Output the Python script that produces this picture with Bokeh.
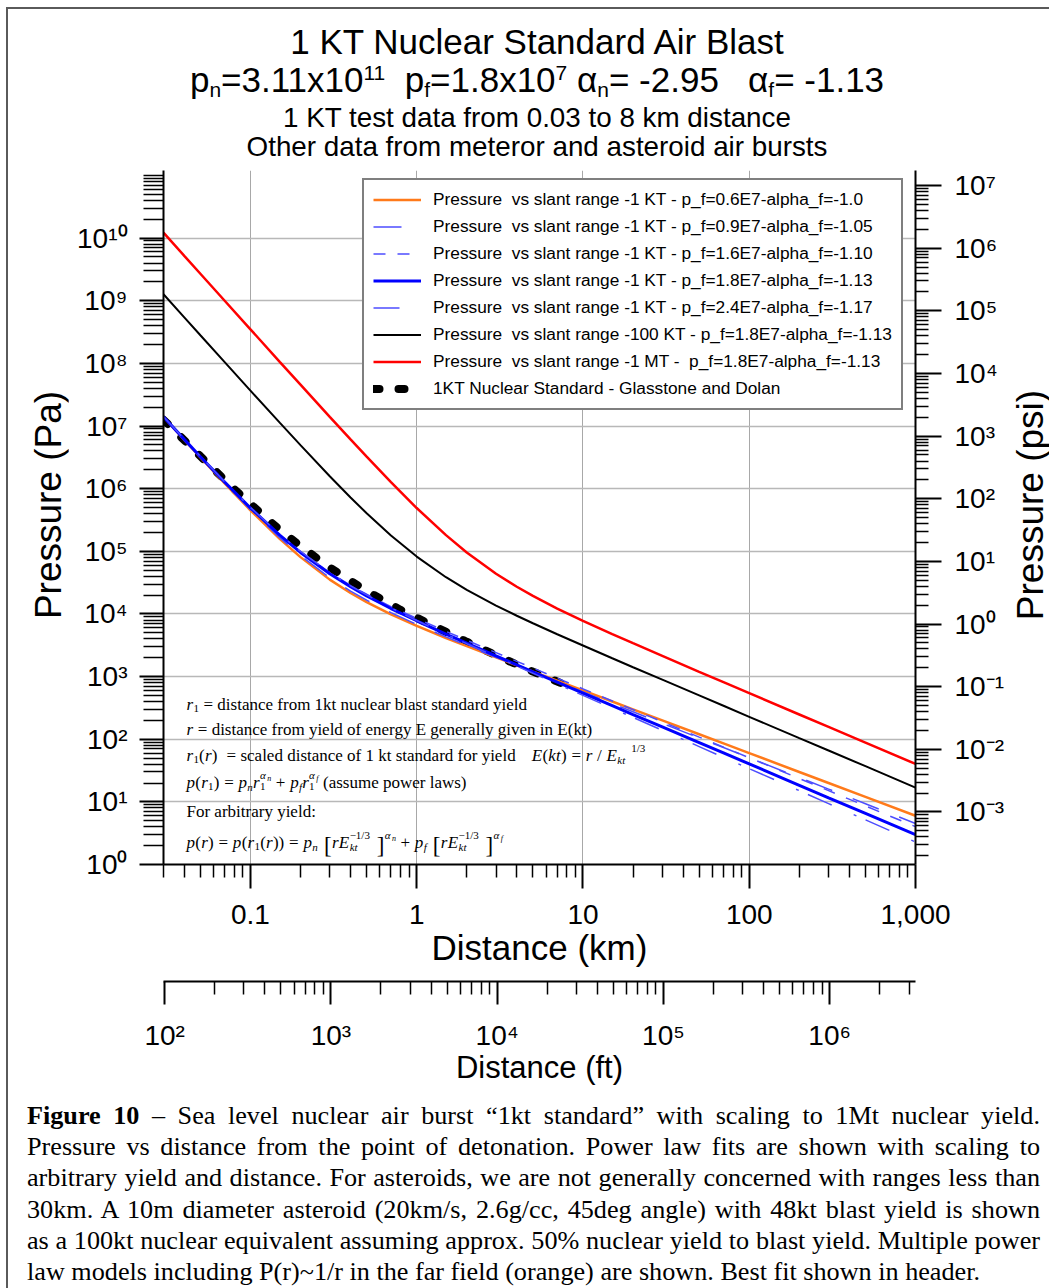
import math
from bokeh.plotting import figure
from bokeh.models import (ColumnDataSource, Range1d, LogScale, LinearScale, LogAxis, FixedTicker,
                          CustomJSTickFormatter, Legend, LegendItem, Div)
from bokeh.layouts import column, row
from bokeh.core.properties import value
from bokeh.embed import file_html
from bokeh.resources import INLINE

# ------------------------------------------------------------------ data
distance_km = [0.03, 0.04, 0.05, 0.07, 0.1, 0.15, 0.2, 0.3, 0.4, 0.5, 0.7, 1, 1.5, 2, 3, 4, 5, 7,
               10, 15, 20, 30, 50, 70, 100, 200, 300, 500, 1000]
p_1kt_pf06_a100 = [1.39e7, 5.99e6, 3.15e6, 1.21e6, 4.52e5, 1.58e5, 8.07e4, 3.53e4, 2.16e4, 1.54e4, 9.83e3,
                   6.44e3, 4.13e3, 3.06e3, 2.02e3, 1.51e3, 1.20e3, 859, 601, 400, 300, 200, 120, 85.7, 60,
                   30, 20, 12, 6.0]
p_1kt_pf09_a105 = [1.39e7, 6.03e6, 3.17e6, 1.23e6, 4.63e5, 1.65e5, 8.52e4, 3.79e4, 2.32e4, 1.66e4, 1.05e4,
                   6.81e3, 4.30e3, 3.13e3, 2.03e3, 1.49e3, 1.18e3, 827, 568, 371, 274, 179, 105, 73.6, 50.6,
                   24.4, 16.0, 9.34, 4.51]
p_1kt_pf16_a110 = [1.40e7, 6.12e6, 3.24e6, 1.27e6, 4.93e5, 1.83e5, 9.78e4, 4.55e4, 2.85e4, 2.06e4, 1.31e4,
                   8.46e3, 5.27e3, 3.80e3, 2.41e3, 1.75e3, 1.37e3, 945, 637, 408, 297, 190, 108, 74.9, 50.6,
                   23.6, 15.1, 8.61, 4.02]
p_1kt_pf18_a113 = [1.40e7, 6.12e6, 3.24e6, 1.27e6, 4.91e5, 1.81e5, 9.59e4, 4.39e4, 2.72e4, 1.94e4, 1.22e4,
                   7.78e3, 4.77e3, 3.41e3, 2.14e3, 1.54e3, 1.19e3, 815, 544, 344, 248, 157, 88.2, 60.3, 40.3,
                   18.4, 11.6, 6.54, 2.99]
p_1kt_pf24_a117 = [1.41e7, 6.16e6, 3.27e6, 1.29e6, 5.01e5, 1.87e5, 9.94e4, 4.56e4, 2.82e4, 2.01e4, 1.25e4,
                   7.86e3, 4.75e3, 3.35e3, 2.07e3, 1.47e3, 1.13e3, 762, 501, 312, 223, 139, 76.3, 51.4, 33.9,
                   15.1, 9.38, 5.16, 2.29]
p_100kt_pf18_a113 = [1.27e9, 5.43e8, 2.81e8, 1.05e8, 3.68e7, 1.13e7, 4.95e6, 1.58e6, 7.24e5, 4.05e5, 1.79e5,
                     8.23e4, 3.86e4, 2.42e4, 1.36e4, 9.36e3, 7.10e3, 4.74e3, 3.13e3, 1.96e3, 1.41e3, 892, 500,
                     342, 228, 104, 66.0, 37.1, 16.9]
p_1mt_pf18_a113 = [1.22e10, 5.21e9, 2.70e9, 1.00e9, 3.50e8, 1.06e8, 4.58e7, 1.40e7, 6.12e6, 3.24e6, 1.27e6,
                   4.91e5, 1.81e5, 9.59e4, 4.39e4, 2.72e4, 1.94e4, 1.22e4, 7.78e3, 4.77e3, 3.41e3, 2.14e3,
                   1.19e3, 815, 544, 248, 157, 88.2, 40.3]

glasstone_km = [0.03, 0.05, 0.08, 0.1, 0.15, 0.2, 0.3, 0.5, 0.8, 1, 2, 3, 5, 8]
glasstone_pa = [1.26e7, 3.3e6, 9.8e5, 5.7e5, 2.2e5, 1.21e5, 5.5e4, 2.33e4, 1.16e4, 8.7e3, 3.6e3, 2.18e3, 1.2e3, 720]

series_labels = [
    "Pressure  vs slant range -1 KT - p_f=0.6E7-alpha_f=-1.0",
    "Pressure  vs slant range -1 KT - p_f=0.9E7-alpha_f=-1.05",
    "Pressure  vs slant range -1 KT - p_f=1.6E7-alpha_f=-1.10",
    "Pressure  vs slant range -1 KT - p_f=1.8E7-alpha_f=-1.13",
    "Pressure  vs slant range -1 KT - p_f=2.4E7-alpha_f=-1.17",
    "Pressure  vs slant range -100 KT - p_f=1.8E7-alpha_f=-1.13",
    "Pressure  vs slant range -1 MT -  p_f=1.8E7-alpha_f=-1.13",
    "1KT Nuclear Standard - Glasstone and Dolan",
]

km_ticks = [0.1, 1, 10, 100, 1000]
km_tick_labels = ["0.1", "1", "10", "100", "1,000"]
pa_ticks = [1e0, 1e1, 1e2, 1e3, 1e4, 1e5, 1e6, 1e7, 1e8, 1e9, 1e10]
pa_tick_labels = ["10⁰", "10¹", "10²", "10³", "10⁴", "10⁵", "10⁶", "10⁷", "10⁸", "10⁹", "10¹⁰"]
psi_ticks = [1e-3, 1e-2, 1e-1, 1e0, 1e1, 1e2, 1e3, 1e4, 1e5, 1e6, 1e7]
psi_tick_labels = ["10⁻³", "10⁻²", "10⁻¹", "10⁰", "10¹", "10²", "10³", "10⁴", "10⁵", "10⁶", "10⁷"]
ft_ticks = [1e2, 1e3, 1e4, 1e5, 1e6]
ft_tick_labels = ["10²", "10³", "10⁴", "10⁵", "10⁶"]

PA_PER_PSI = 6894.757
KM_PER_FT = 0.0003048

# ------------------------------------------------------------------ figure geometry
X_MIN, X_MAX = 0.03, 1000.0
Y_MIN, Y_MAX = 1.0, 1.2e11
FRAME_W, FRAME_H = 752, 694
FRAME_LEFT_PAGE, FRAME_TOP_PAGE = 163, 170
FIG_H = 944

p = figure(width=942, height=FIG_H, x_axis_type="log", y_axis_type="log",
           x_range=Range1d(X_MIN, X_MAX), y_range=Range1d(Y_MIN, Y_MAX),
           output_backend="svg", toolbar_location=None,
           min_border_left=95, min_border_right=95, min_border_top=10, min_border_bottom=240,
           background_fill_color="white", border_fill_color="white", margin=0)
p.outline_line_color = None

p.extra_x_ranges = {"ft": Range1d(X_MIN / KM_PER_FT, X_MAX / KM_PER_FT),
                    "px": Range1d(0, FRAME_W)}
p.extra_x_scales = {"ft": LogScale(), "px": LinearScale()}
p.extra_y_ranges = {"psi": Range1d(Y_MIN / PA_PER_PSI, Y_MAX / PA_PER_PSI),
                    "px": Range1d(FRAME_H, 0)}
p.extra_y_scales = {"psi": LogScale(), "px": LinearScale()}


def minors(lo, hi, kmin, kmax, majors):
    out = []
    for k in range(kmin, kmax + 1):
        for m in range(1, 10):
            v = m * 10.0 ** k
            if lo * 0.999 <= v <= hi * 1.001 and all(abs(v / t - 1) > 1e-9 for t in majors):
                out.append(v)
    return out


LAB_CODE = """
const lt = Math.log10(tick);
for (let i = 0; i < vals.length; i++) {
  if (Math.abs(lt - Math.log10(vals[i])) < 1e-6) { return labs[i]; }
}
return "";
"""


def fmt(vals, labs):
    return CustomJSTickFormatter(args=dict(vals=vals, labs=labs), code=LAB_CODE)


def style_axis(ax, label, label_size, major_out, minor_out, standoff, label_standoff):
    ax.axis_label = label
    ax.axis_label_text_font = "Liberation Sans"
    ax.axis_label_text_font_size = label_size
    ax.axis_label_text_font_style = "normal"
    ax.axis_label_text_color = "black"
    ax.axis_label_standoff = label_standoff
    ax.major_label_text_font = "Liberation Sans"
    ax.major_label_text_font_size = "28px"
    ax.major_label_text_color = "black"
    ax.major_label_standoff = standoff
    ax.axis_line_width = 2
    ax.axis_line_color = "black"
    ax.major_tick_line_color = "black"
    ax.minor_tick_line_color = "black"
    ax.major_tick_line_width = 2
    ax.minor_tick_line_width = 1.5
    ax.major_tick_in = 0
    ax.major_tick_out = major_out
    ax.minor_tick_in = 0
    ax.minor_tick_out = minor_out


# main x axis (km)
xax = p.xaxis[0]
xax.ticker = FixedTicker(ticks=km_ticks, minor_ticks=minors(X_MIN, X_MAX, -2, 3, km_ticks))
xax.formatter = fmt(km_ticks, km_tick_labels)
style_axis(xax, "Distance (km)", "35px", 24, 13, 16, 1)

# left y axis (Pa) - its title is a rotated text beside the figure
yax = p.yaxis[0]
yax.ticker = FixedTicker(ticks=pa_ticks, minor_ticks=minors(Y_MIN, Y_MAX, 0, 11, pa_ticks))
yax.formatter = fmt(pa_ticks, pa_tick_labels)
style_axis(yax, None, "36px", 24, 20, 12, 8)

# right y axis (psi)
psi_ax = LogAxis(y_range_name="psi",
                 ticker=FixedTicker(ticks=psi_ticks,
                                    minor_ticks=minors(Y_MIN / PA_PER_PSI, Y_MAX / PA_PER_PSI, -4, 7, psi_ticks)),
                 formatter=fmt(psi_ticks, psi_tick_labels))
style_axis(psi_ax, None, "36px", 26, 13, 13, 8)
p.add_layout(psi_ax, "right")

# invisible spacer axis between the two distance axes
spacer = LogAxis(ticker=FixedTicker(ticks=[1.0], minor_ticks=[]),
                 formatter=CustomJSTickFormatter(code='return "";'),
                 axis_line_color=None, major_tick_out=12, major_tick_in=0, minor_tick_out=0, minor_tick_in=0,
                 major_label_standoff=0, major_label_text_font_size="1px",
                 major_tick_line_color=None, minor_tick_line_color=None)
p.add_layout(spacer, "below")

# second x axis (ft)
ft_ax = LogAxis(x_range_name="ft",
                ticker=FixedTicker(ticks=ft_ticks,
                                   minor_ticks=minors(X_MIN / KM_PER_FT, X_MAX / KM_PER_FT, 2, 6, ft_ticks)),
                formatter=fmt(ft_ticks, ft_tick_labels))
style_axis(ft_ax, "Distance (ft)", "31px", 23, 13, 15, -4)
p.add_layout(ft_ax, "below")

p.xgrid.grid_line_color = "#a8a8a8"
p.xgrid.grid_line_width = 1
p.ygrid.grid_line_color = "#b8b8b8"
p.ygrid.grid_line_width = 1.5

# ------------------------------------------------------------------ curves
src = ColumnDataSource(dict(x=distance_km,
                            o=p_1kt_pf06_a100, b09=p_1kt_pf09_a105, b16=p_1kt_pf16_a110,
                            b18=p_1kt_pf18_a113, b24=p_1kt_pf24_a117,
                            k100=p_100kt_pf18_a113, mt=p_1mt_pf18_a113))
gsrc = ColumnDataSource(dict(x=glasstone_km, y=glasstone_pa))

r_gd = p.line("x", "y", source=gsrc, line_color="black", line_width=8, line_dash="6 19", line_cap="round")
r_o = p.line("x", "o", source=src, line_color="#ff7a1a", line_width=2.5)
r_b09 = p.line("x", "b09", source=src, line_color="#4d4dff", line_width=1.5, line_dash="28 22")
r_b16 = p.line("x", "b16", source=src, line_color="#4d4dff", line_width=1.5, line_dash="12 12")
r_b18 = p.line("x", "b18", source=src, line_color="#0000ff", line_width=3)
r_b24 = p.line("x", "b24", source=src, line_color="#4d4dff", line_width=1.5, line_dash="26 24 3 10")
r_100 = p.line("x", "k100", source=src, line_color="black", line_width=2)
r_mt = p.line("x", "mt", source=src, line_color="#ff0000", line_width=2.5)

renderers = [r_o, r_b09, r_b16, r_b18, r_b24, r_100, r_mt, r_gd]
legend = Legend(items=[LegendItem(label=lab, renderers=[r]) for lab, r in zip(series_labels, renderers)],
                location=(199, 454), label_text_font="Liberation Sans", label_text_font_size="17.3px",
                label_text_color="black", glyph_width=48, glyph_height=21, label_height=21,
                label_standoff=12, spacing=6, padding=9, margin=0,
                border_line_color="black", border_line_width=2, background_fill_alpha=1.0)
p.add_layout(legend, "center")

# ------------------------------------------------------------------ equation block (Times)
W_ROMAN = {" ": 250, "(": 333, ")": 333, "+": 564, ",": 250, "-": 333, ".": 250, "/": 278, ":": 278,
           "=": 564, "[": 333, "]": 333, "~": 541, "−": 564, "α": 631,
           "A": 722, "B": 667, "C": 667, "D": 722, "E": 611, "F": 556, "G": 722, "H": 722, "I": 333,
           "J": 389, "K": 722, "L": 611, "M": 889, "N": 722, "O": 722, "P": 556, "Q": 722, "R": 667,
           "S": 556, "T": 611, "U": 722, "V": 722, "W": 944, "X": 722, "Y": 722, "Z": 611,
           "a": 444, "b": 500, "c": 444, "d": 500, "e": 444, "f": 333, "g": 500, "h": 500, "i": 278,
           "j": 278, "k": 500, "l": 278, "m": 778, "n": 500, "o": 500, "p": 500, "q": 500, "r": 333,
           "s": 389, "t": 278, "u": 500, "v": 500, "w": 722, "x": 500, "y": 500, "z": 444}
W_ITALIC = dict(W_ROMAN)
W_ITALIC.update({"a": 500, "f": 278, "k": 444, "m": 722, "r": 389, "v": 444, "w": 667, "y": 444, "z": 389})
for d in "0123456789":
    W_ROMAN[d] = 500
    W_ITALIC[d] = 500

BASE = 17.0
KIND = {"n": (BASE, 0.0), "sub": (11.0, 4.0), "sup": (11.0, -7.5), "ss": (8.0, -4.5), "big": (23.0, 3.0)}
W_SCALE = 1.04


def twidth(t, size, style):
    tab = W_ITALIC if style == "italic" else W_ROMAN
    return sum(tab.get(c, 500) for c in t) * size / 1000.0 * W_SCALE


def layout_line(pieces, x0, base):
    out = []
    x = x0
    last_start = x0
    for pc in pieces:
        txt, kind, style = pc[0], pc[1], pc[2]
        stack = len(pc) > 3 and pc[3] == "stack"
        size, dy = KIND[kind]
        lead = len(txt) - len(txt.lstrip(" "))
        lead_w = twidth(" " * lead, size, style)
        w = twidth(txt, size, style)
        xs = last_start if stack else x
        if txt.strip():
            out.append((xs + lead_w, base + dy, txt.strip(" "), "%.1fpx" % size, style))
        if stack:
            x = max(x, xs + w)
        else:
            last_start = xs + lead_w
            x = xs + w
    return out


I, N = "italic", "normal"
eq_lines = [
    [("r", "n", I), ("1", "sub", N), (" = distance from 1kt nuclear blast standard yield", "n", N)],
    [("r", "n", I), (" = distance from yield of energy E generally given in E(kt)", "n", N)],
    [("r", "n", I), ("1", "sub", N), ("(", "n", N), ("r", "n", I), (")", "n", N),
     ("  = scaled distance of 1 kt standard for yield ", "n", N), ("E", "n", I), ("(", "n", N),
     ("kt", "n", I), (")", "n", N), (" = ", "n", N), ("r", "n", I), (" / ", "n", N), ("E", "n", I),
     ("kt", "sub", I), ("  1/3", "sup", N)],
    [("p", "n", I), ("(", "n", N), ("r", "n", I), ("1", "sub", N), (")", "n", N), (" = ", "n", N),
     ("p", "n", I), ("n", "sub", I), ("r", "n", I), ("1", "sub", N), ("α", "sup", I, "stack"), ("n", "ss", I),
     (" + ", "n", N), ("p", "n", I), ("f", "sub", I), ("r", "n", I), ("1", "sub", N), ("α", "sup", I, "stack"),
     ("f", "ss", I), (" (assume power laws)", "n", N)],
    [("For arbitrary yield:", "n", N)],
    [("p", "n", I), ("(", "n", N), ("r", "n", I), (")", "n", N), (" = ", "n", N), ("p", "n", I), ("(", "n", N),
     ("r", "n", I), ("1", "sub", N), ("(", "n", N), ("r", "n", I), ("))", "n", N), (" = ", "n", N),
     ("p", "n", I), ("n", "sub", I), (" [", "big", N), ("r", "n", I), ("E", "n", I), ("kt", "sub", I),
     ("−1/3", "sup", N, "stack"), (" ]", "big", N), ("α", "sup", I), ("n", "ss", I), (" + ", "n", N),
     ("p", "n", I), ("f", "sub", I), (" [", "big", N), ("r", "n", I), ("E", "n", I), ("kt", "sub", I),
     ("−1/3", "sup", N, "stack"), (" ]", "big", N), ("α", "sup", I), ("f", "ss", I)],
]
eq_baselines_page = [704, 729, 755, 782, 811, 842]
eq_left_page = 186

ex, ey, et, es, est = [], [], [], [], []
for pieces, bl in zip(eq_lines, eq_baselines_page):
    for (xx, yy, tt, ss, st) in layout_line(pieces, eq_left_page - FRAME_LEFT_PAGE, bl - FRAME_TOP_PAGE):
        ex.append(xx); ey.append(yy); et.append(tt); es.append(ss); est.append(st)
eq_src = ColumnDataSource(dict(x=ex, y=ey, text=et, size=es, style=est))
p.text(x="x", y="y", text="text", source=eq_src, x_range_name="px", y_range_name="px",
       text_font=value("Liberation Serif"), text_font_size="size", text_font_style="style",
       text_baseline="alphabetic", text_align="left", text_color="black")

# ------------------------------------------------------------------ rotated axis titles beside the figure
def vertical_title(txt, box_w, cx, cy):
    html = ('<div style="position:relative;width:%dpx;height:%dpx;">'
            '<div style="position:absolute;left:%dpx;top:%dpx;transform:translate(-50%%,-50%%) rotate(-90deg);'
            'white-space:nowrap;font-family:\'Liberation Sans\',Arial,sans-serif;font-size:37px;line-height:1;'
            'color:#000;">%s</div></div>') % (box_w, FIG_H, cx, cy, txt)
    return Div(text=html, width=box_w, height=FIG_H, margin=0)


left_title = vertical_title("Pressure (Pa)", 60, 40, 345)
right_title = vertical_title("Pressure (psi)", 39, 20, 345)

# ------------------------------------------------------------------ header and caption
SUB = '<sub style="font-size:0.6em;line-height:0;vertical-align:-0.25em">'
SUP = '<sup style="font-size:0.6em;line-height:0;vertical-align:0.55em">'
header_html = (
    '<div style="font-family:\'Liberation Sans\',Arial,sans-serif;color:#000;text-align:center;'
    'box-sizing:border-box;width:1041px;padding:14px 0 0 17px;">'
    '<div style="font-size:35px;line-height:38px;white-space:nowrap">1 KT Nuclear Standard Air Blast</div>'
    '<div style="font-size:35px;line-height:38px;white-space:nowrap">'
    'p' + SUB + 'n</sub>=3.11x10' + SUP + '11</sup>&nbsp; p' + SUB + 'f</sub>=1.8x10' + SUP + '7</sup>'
    ' α' + SUB + 'n</sub>= -2.95&nbsp;&nbsp; α' + SUB + 'f</sub>= -1.13</div>'
    '<div style="font-size:27.8px;line-height:29px;margin-top:4px;white-space:nowrap">'
    '1 KT test data from 0.03 to 8 km distance</div>'
    '<div style="font-size:27.8px;line-height:29px;white-space:nowrap">'
    'Other data from meteror and asteroid air bursts</div>'
    '</div>'
)
header = Div(text=header_html, width=1041, height=151, margin=0)

caption_lines = [
    "<b>Figure 10</b> – Sea level nuclear air burst “1kt standard” with scaling to 1Mt nuclear yield.",
    "Pressure vs distance from the point of detonation. Power law fits are shown with scaling to",
    "arbitrary yield and distance. For asteroids, we are not generally concerned with ranges less than",
    "30km. A 10m diameter asteroid (20km/s, 2.6g/cc, 45deg angle) with 48kt blast yield is shown",
    "as a 100kt nuclear equivalent assuming approx. 50% nuclear yield to blast yield. Multiple power",
    "law models including P(r)~1/r in the far field (orange) are shown. Best fit shown in header.",
]
cap_parts = []
for i, ln in enumerate(caption_lines):
    if i < len(caption_lines) - 1:
        cap_parts.append('<div style="text-align:justify;text-align-last:justify;white-space:nowrap">' + ln + '</div>')
    else:
        cap_parts.append('<div style="text-align:left;white-space:nowrap">' + ln + '</div>')
caption_html = ('<div style="font-family:\'Liberation Serif\',\'Times New Roman\',serif;font-size:26.2px;'
                'line-height:31.2px;color:#000;box-sizing:border-box;width:1041px;margin-top:-4px;'
                'padding:0 9px 0 19px;">' + "".join(cap_parts) + '</div>')
caption = Div(text=caption_html, width=1041, height=184, margin=0)

page = column(header, row(left_title, p, right_title, spacing=0, margin=0), caption, spacing=0,
              margin=(7, 0, 0, 6),
              styles={"border-left": "2px solid #5a5a5a", "border-top": "2px solid #5a5a5a"})

open("out.html", "w").write(file_html(page, INLINE))
